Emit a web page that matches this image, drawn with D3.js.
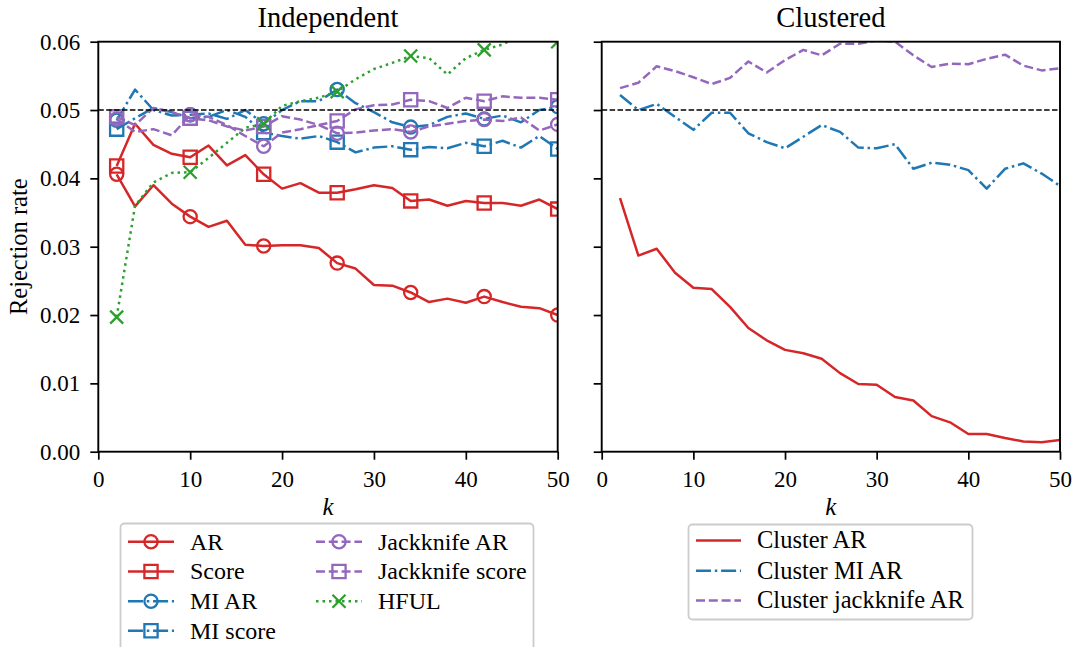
<!DOCTYPE html>
<html><head><meta charset="utf-8">
<script src="https://cdn.jsdelivr.net/npm/d3@7"></script>
<style>
body{margin:0;background:#fff}
svg{display:block}
text{font-family:"Liberation Serif","Times New Roman",serif;fill:#000}
</style>
</head><body>
<svg id="c" width="1072" height="647"></svg>
<script>
// ---------- data ----------
const K = [2,4,6,8,10,12,14,16,18,20,22,24,26,28,30,32,34,36,38,40,42,44,46,48,50];
const yTicks = [0.00,0.01,0.02,0.03,0.04,0.05,0.06];
const xTicks = [0,10,20,30,40,50];
const panelTitles = ["Independent","Clustered"];

const AR        = [0.0406,0.0359,0.0390,0.0363,0.0344,0.0329,0.0338,0.0303,0.0301,0.0302,0.0302,0.0298,0.0276,0.0268,0.0244,0.0243,0.0233,0.0219,0.0224,0.0218,0.0227,0.0219,0.0212,0.0210,0.0200];
const Score     = [0.0418,0.0480,0.0449,0.0436,0.0431,0.0448,0.0419,0.0434,0.0406,0.0385,0.0393,0.0379,0.0379,0.0384,0.0390,0.0386,0.0367,0.0369,0.0360,0.0367,0.0364,0.0364,0.0360,0.0369,0.0355];
const MI_AR     = [0.0485,0.0530,0.0500,0.0492,0.0493,0.0495,0.0487,0.0500,0.0480,0.0500,0.0513,0.0513,0.0530,0.0510,0.0497,0.0482,0.0475,0.0478,0.0490,0.0495,0.0487,0.0492,0.0482,0.0500,0.0505];
const MI_score  = [0.0472,0.0488,0.0503,0.0497,0.0488,0.0490,0.0500,0.0490,0.0467,0.0462,0.0458,0.0462,0.0453,0.0438,0.0445,0.0447,0.0442,0.0446,0.0444,0.0452,0.0447,0.0455,0.0445,0.0462,0.0443];
const JK_AR     = [0.0487,0.0468,0.0472,0.0463,0.0493,0.0490,0.0478,0.0462,0.0447,0.0467,0.0472,0.0478,0.0466,0.0467,0.0470,0.0472,0.0468,0.0476,0.0480,0.0484,0.0486,0.0484,0.0489,0.0470,0.0479];
const JK_score  = [0.0490,0.0478,0.0503,0.0497,0.0488,0.0485,0.0476,0.0470,0.0476,0.0491,0.0486,0.0478,0.0484,0.0501,0.0507,0.0508,0.0515,0.0513,0.0503,0.0518,0.0513,0.0520,0.0518,0.0518,0.0515];
const HFUL      = [0.0197,0.0360,0.0394,0.0408,0.0409,0.0430,0.0452,0.0474,0.0480,0.0506,0.0513,0.0518,0.0527,0.0545,0.0560,0.0569,0.0579,0.0576,0.0552,0.0576,0.0588,0.0596,0.0610,0.0612,0.0600];

const ClusterAR   = [0.0371,0.0287,0.0297,0.0262,0.0240,0.0238,0.0212,0.0181,0.0163,0.0149,0.0144,0.0136,0.0115,0.0099,0.0098,0.0080,0.0075,0.0052,0.0043,0.0026,0.0026,0.0020,0.0015,0.0014,0.0017];
const ClusterMIAR = [0.0522,0.0500,0.0509,0.0490,0.0471,0.0496,0.0496,0.0466,0.0453,0.0444,0.0461,0.0478,0.0468,0.0445,0.0444,0.0450,0.0414,0.0423,0.0420,0.0412,0.0385,0.0414,0.0422,0.0407,0.0389];
const ClusterJKAR = [0.0532,0.0540,0.0564,0.0557,0.0548,0.0538,0.0547,0.0571,0.0555,0.0573,0.0588,0.0580,0.0597,0.0597,0.0602,0.0600,0.0580,0.0563,0.0568,0.0567,0.0575,0.0581,0.0565,0.0558,0.0561];

const nominal = 0.05;

// ---------- styles ----------
const RED="#d62728", BLUE="#1f77b4", PURPLE="#9467bd", GREEN="#2ca02c";
const LW = 2.5;
const MLW = 2.3;
const DASH = {solid:null, dashed:"9,3.8", dashdot:"15,3.8,2.5,3.8", dotted:"2.5,4"};

const indepSeries = [
  {name:"AR", values:AR, color:RED, dash:"solid", marker:"o"},
  {name:"Score", values:Score, color:RED, dash:"solid", marker:"s"},
  {name:"MI AR", values:MI_AR, color:BLUE, dash:"dashdot", marker:"o"},
  {name:"MI score", values:MI_score, color:BLUE, dash:"dashdot", marker:"s"},
  {name:"Jackknife AR", values:JK_AR, color:PURPLE, dash:"dashed", marker:"o"},
  {name:"Jackknife score", values:JK_score, color:PURPLE, dash:"dashed", marker:"s"},
  {name:"HFUL", values:HFUL, color:GREEN, dash:"dotted", marker:"x"}
];
const clusterSeries = [
  {name:"Cluster AR", values:ClusterAR, color:RED, dash:"solid", marker:null},
  {name:"Cluster MI AR", values:ClusterMIAR, color:BLUE, dash:"dashdot", marker:null},
  {name:"Cluster jackknife AR", values:ClusterJKAR, color:PURPLE, dash:"dashed", marker:null}
];

// ---------- drawing ----------
const svg = d3.select("#c");
svg.append("rect").attr("width",1072).attr("height",647).attr("fill","#fff");

const yTop = 41.7, yBot = 451.7;
const y = d3.scaleLinear().domain([0,0.06]).range([yBot, yTop]);

function markerPath(m){
  if(m==="o") return d3.symbol(d3.symbolCircle, Math.PI*6.6*6.6)();
  if(m==="s") return "M-6.6,-6.6H6.6V6.6H-6.6Z";
  if(m==="x") return "M-6.5,-6.5L6.5,6.5M-6.5,6.5L6.5,-6.5";
  return null;
}

function drawHandle(g,s,xa,xb,yy){
  g.append("line").attr("x1",xa).attr("x2",xb).attr("y1",yy).attr("y2",yy)
    .attr("stroke",s.color).attr("stroke-width",LW).attr("stroke-dasharray",DASH[s.dash]);
  if(s.marker){
    g.append("path").attr("d",markerPath(s.marker)).attr("transform",`translate(${(xa+xb)/2},${yy})`)
      .attr("fill","none").attr("stroke",s.color).attr("stroke-width",MLW);
  }
}

const panels = [
  {x0:98.3, x1:557.7, series:indepSeries, labels:true},
  {x0:601.7, x1:1060, series:clusterSeries, labels:false}
];

panels.forEach((p,pi)=>{
  const x = d3.scaleLinear().domain([0,50]).range([p.x0,p.x1]);
  const g = svg.append("g");
  const clipId = "clip"+pi;
  svg.append("clipPath").attr("id",clipId).append("rect")
    .attr("x",p.x0).attr("y",yTop).attr("width",p.x1-p.x0).attr("height",yBot-yTop);
  const plot = g.append("g").attr("clip-path",`url(#${clipId})`);
  const line = d3.line().x((d,i)=>x(K[i])).y(d=>y(d));

  p.series.forEach(s=>{
    plot.append("path").datum(s.values).attr("d",line)
      .attr("fill","none").attr("stroke",s.color).attr("stroke-width",LW)
      .attr("stroke-linejoin","round")
      .attr("stroke-dasharray",DASH[s.dash]);
    if(s.marker){
      s.values.forEach((v,i)=>{
        if(i%4!==0) return;
        plot.append("path").attr("d",markerPath(s.marker))
          .attr("transform",`translate(${x(K[i])},${y(v)})`)
          .attr("fill","none").attr("stroke",s.color).attr("stroke-width",MLW);
      });
    }
  });

  // nominal level
  plot.append("line").attr("x1",x(0)).attr("x2",x(50)).attr("y1",y(nominal)).attr("y2",y(nominal))
    .attr("stroke","#000").attr("stroke-width",1.6).attr("stroke-dasharray","5.5,2.4");

  // axes
  const ya = d3.axisLeft(y).tickValues(yTicks).tickSize(8).tickPadding(10)
    .tickFormat(p.labels ? d3.format(".2f") : ()=>"");
  const yg = g.append("g").attr("transform",`translate(${p.x0},0)`).call(ya);
  yg.select(".domain").remove();
  yg.selectAll(".tick line").attr("stroke-width",1.7);
  yg.selectAll("text").attr("font-size",23).attr("font-family",'"Liberation Serif",serif');

  const xa = d3.axisBottom(x).tickValues(xTicks).tickSize(8).tickFormat(d3.format("d"));
  const xg = g.append("g").attr("transform",`translate(0,${yBot})`).call(xa);
  xg.select(".domain").remove();
  xg.selectAll(".tick line").attr("stroke-width",1.7);
  xg.selectAll("text").attr("y",35).attr("dy",0).attr("font-size",23).attr("font-family",'"Liberation Serif",serif');

  // frame
  g.append("rect").attr("x",p.x0).attr("y",yTop).attr("width",p.x1-p.x0).attr("height",yBot-yTop)
    .attr("fill","none").attr("stroke","#000").attr("stroke-width",1.9);

  // title & xlabel
  g.append("text").attr("x",(p.x0+p.x1)/2).attr("y",26.5).attr("text-anchor","middle")
    .attr("font-size",28.5).text(panelTitles[pi]);
  g.append("text").attr("x",(p.x0+p.x1)/2).attr("y",515).attr("text-anchor","middle")
    .attr("font-size",25).attr("font-style","italic").text("k");

  // legend
  const leg = svg.append("g");
  if(pi===0){
    leg.append("rect").attr("x",120.5).attr("y",523.5).attr("width",413).attr("height",140).attr("rx",4)
      .attr("fill","#fff").attr("fill-opacity",0.8).attr("stroke","#cccccc").attr("stroke-width",1.8);
    const cols=[{hx:128,tx:190},{hx:316,tx:378}];
    const rowsY=[541.7,571.5,601.2,630.8];
    p.series.forEach((s,i)=>{
      const c = i<4?cols[0]:cols[1];
      const ry = rowsY[i<4?i:i-4];
      drawHandle(leg,s,c.hx,c.hx+46,ry);
      leg.append("text").attr("x",c.tx).attr("y",ry+7.8).attr("font-size",24).text(s.name);
    });
  } else {
    leg.append("rect").attr("x",688.5).attr("y",524.5).attr("width",284).attr("height",95).attr("rx",4)
      .attr("fill","#fff").attr("fill-opacity",0.8).attr("stroke","#cccccc").attr("stroke-width",1.8);
    const rowsY=[540.5,570.7,600.5];
    p.series.forEach((s,i)=>{
      drawHandle(leg,s,696,741,rowsY[i]);
      leg.append("text").attr("x",757).attr("y",rowsY[i]+7.8).attr("font-size",24.5).text(s.name);
    });
  }
});

// y label
svg.append("text").attr("transform","translate(27,246.7) rotate(-90)").attr("text-anchor","middle")
  .attr("font-size",24.5).text("Rejection rate");
</script>
</body></html>
